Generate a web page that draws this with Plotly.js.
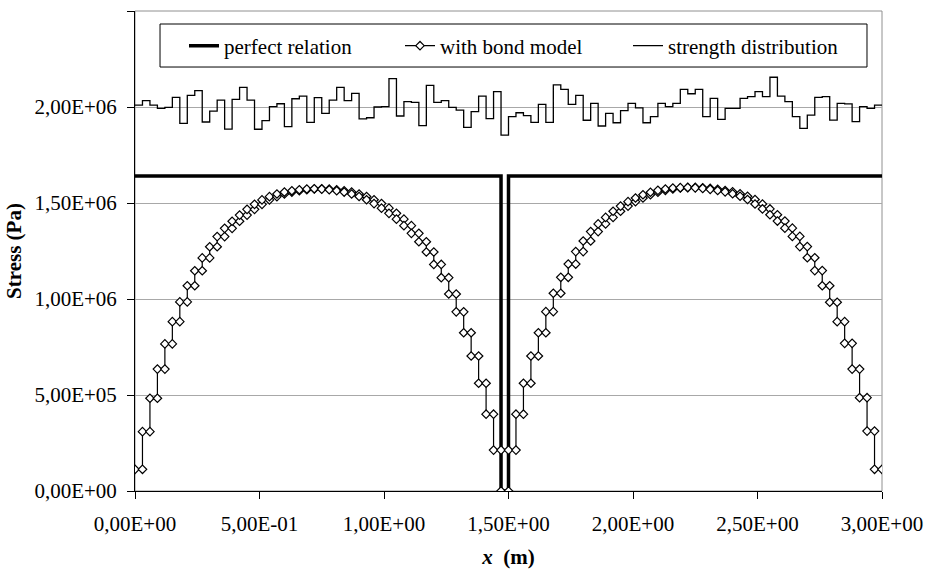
<!DOCTYPE html>
<html>
<head>
<meta charset="utf-8">
<script src="https://cdn.plot.ly/plotly-3.0.1.min.js"></script>
<style>
  html, body { margin: 0; padding: 0; background: #ffffff; }
  #chart { width: 925px; height: 574px; }
</style>
</head>
<body>
<div id="chart"></div>
<script>
// Element node positions along the bar (m): 100 elements of 0.03 m
const xNodes = [
  0.00, 0.03, 0.06, 0.09, 0.12, 0.15, 0.18, 0.21, 0.24, 0.27,
  0.30, 0.33, 0.36, 0.39, 0.42, 0.45, 0.48, 0.51, 0.54, 0.57,
  0.60, 0.63, 0.66, 0.69, 0.72, 0.75, 0.78, 0.81, 0.84, 0.87,
  0.90, 0.93, 0.96, 0.99, 1.02, 1.05, 1.08, 1.11, 1.14, 1.17,
  1.20, 1.23, 1.26, 1.29, 1.32, 1.35, 1.38, 1.41, 1.44, 1.47,
  1.50, 1.53, 1.56, 1.59, 1.62, 1.65, 1.68, 1.71, 1.74, 1.77,
  1.80, 1.83, 1.86, 1.89, 1.92, 1.95, 1.98, 2.01, 2.04, 2.07,
  2.10, 2.13, 2.16, 2.19, 2.22, 2.25, 2.28, 2.31, 2.34, 2.37,
  2.40, 2.43, 2.46, 2.49, 2.52, 2.55, 2.58, 2.61, 2.64, 2.67,
  2.70, 2.73, 2.76, 2.79, 2.82, 2.85, 2.88, 2.91, 2.94, 2.97,
  3.00
];

// Stress per element (Pa)
const perfectRelation = [
  1640000, 1640000, 1640000, 1640000, 1640000, 1640000, 1640000, 1640000, 1640000, 1640000,
  1640000, 1640000, 1640000, 1640000, 1640000, 1640000, 1640000, 1640000, 1640000, 1640000,
  1640000, 1640000, 1640000, 1640000, 1640000, 1640000, 1640000, 1640000, 1640000, 1640000,
  1640000, 1640000, 1640000, 1640000, 1640000, 1640000, 1640000, 1640000, 1640000, 1640000,
  1640000, 1640000, 1640000, 1640000, 1640000, 1640000, 1640000, 1640000, 1640000, 0,
  1640000, 1640000, 1640000, 1640000, 1640000, 1640000, 1640000, 1640000, 1640000, 1640000,
  1640000, 1640000, 1640000, 1640000, 1640000, 1640000, 1640000, 1640000, 1640000, 1640000,
  1640000, 1640000, 1640000, 1640000, 1640000, 1640000, 1640000, 1640000, 1640000, 1640000,
  1640000, 1640000, 1640000, 1640000, 1640000, 1640000, 1640000, 1640000, 1640000, 1640000,
  1640000, 1640000, 1640000, 1640000, 1640000, 1640000, 1640000, 1640000, 1640000, 1640000
];

const bondModel = [
  113000, 309000, 483000, 635000, 766000, 882000, 985000, 1069000, 1147000, 1214000,
  1272000, 1325000, 1368000, 1405000, 1437000, 1467000, 1493000, 1516000, 1533000, 1547000,
  1557000, 1564000, 1569000, 1573000, 1574000, 1572000, 1569000, 1564000, 1557000, 1547000,
  1534000, 1517000, 1497000, 1473000, 1446000, 1416000, 1382000, 1342000, 1298000, 1245000,
  1180000, 1111000, 1026000, 933000, 824000, 703000, 561000, 400000, 213000, 0,
  213000, 400000, 561000, 703000, 824000, 934000, 1030000, 1113000, 1182000, 1247000,
  1302000, 1351000, 1391000, 1425000, 1457000, 1484000, 1507000, 1526000, 1543000, 1556000,
  1566000, 1573000, 1578000, 1580000, 1581000, 1579000, 1576000, 1571000, 1565000, 1558000,
  1548000, 1535000, 1518000, 1495000, 1469000, 1439000, 1406000, 1369000, 1326000, 1273000,
  1215000, 1148000, 1069000, 983000, 882000, 769000, 635000, 486000, 312000, 113000
];

const strengthDistribution = [
  2010000, 2033000, 2010000, 1993000, 1998000, 2050000, 1915000, 2061000, 2085000, 1922000,
  1979000, 2036000, 1885000, 2040000, 2102000, 2036000, 1884000, 1929000, 2002000, 2017000,
  1898000, 2043000, 2057000, 1920000, 2049000, 1967000, 2036000, 2102000, 2033000, 2071000,
  1938000, 1944000, 2000000, 2002000, 2148000, 1953000, 2028000, 2024000, 1903000, 2113000,
  2024000, 2033000, 1998000, 1984000, 1894000, 1976000, 2057000, 1939000, 2080000, 1854000,
  1950000, 1970000, 1955000, 1920000, 2014000, 1920000, 2115000, 2092000, 2014000, 2061000,
  1931000, 2019000, 1901000, 1967000, 1918000, 1981000, 2019000, 1995000, 1918000, 1950000,
  2019000, 2002000, 2019000, 2092000, 2069000, 2092000, 1950000, 2045000, 1936000, 1993000,
  1993000, 2045000, 2054000, 2080000, 2054000, 2155000, 2057000, 2028000, 1950000, 1889000,
  1958000, 2050000, 2054000, 1932000, 2019000, 2016000, 1924000, 2002000, 1993000, 2010000
];

const seriesNames = ['perfect relation', 'with bond model', 'strength distribution'];

const yTickVals = [0, 500000, 1000000, 1500000, 2000000, 2500000];
const yTickText = ['0,00E+00', '5,00E+05', '1,00E+06', '1,50E+06', '2,00E+06', '2,50E+06'];
const xTickVals = [0, 0.5, 1.0, 1.5, 2.0, 2.5, 3.0];
const xTickText = ['0,00E+00', '5,00E-01', '1,00E+00', '1,50E+00', '2,00E+00', '2,50E+00', '3,00E+00'];

// ---- build step coordinates from element values ----
function stepHV(vals) {
  const xs = [], ys = [];
  for (let i = 0; i < vals.length; i++) { xs.push(xNodes[i]); ys.push(vals[i]); }
  xs.push(xNodes[vals.length]); ys.push(vals[vals.length - 1]);
  return {x: xs, y: ys};
}
function elementEnds(vals) {
  const xs = [], ys = [];
  for (let i = 0; i < vals.length; i++) {
    xs.push(xNodes[i]); ys.push(vals[i]);
    xs.push(xNodes[i + 1]); ys.push(vals[i]);
  }
  return {x: xs, y: ys};
}

const FONT = 'Liberation Serif';
const pr = stepHV(perfectRelation);
const bm = elementEnds(bondModel);
const sd = stepHV(strengthDistribution);

const traces = [
  {
    x: pr.x, y: pr.y, name: seriesNames[0], type: 'scatter', mode: 'lines',
    line: {color: '#000000', width: 3.5, shape: 'hv'},
    legendwidth: 171, hoverinfo: 'skip'
  },
  {
    x: bm.x, y: bm.y, name: seriesNames[1], type: 'scatter', mode: 'lines+markers',
    line: {color: '#000000', width: 1.2},
    marker: {symbol: 'diamond', size: 6.5, color: '#ffffff', line: {color: '#000000', width: 1.2}},
    legendwidth: 183, hoverinfo: 'skip'
  },
  {
    x: sd.x, y: sd.y, name: seriesNames[2], type: 'scatter', mode: 'lines',
    line: {color: '#000000', width: 1.3, shape: 'hv'},
    legendwidth: 180, hoverinfo: 'skip'
  }
];

const layout = {
  width: 925, height: 574,
  margin: {l: 135, r: 43, t: 11, b: 83, pad: 0},
  paper_bgcolor: '#ffffff', plot_bgcolor: '#ffffff',
  font: {family: FONT, size: 21, color: '#000000'},
  showlegend: true,
  legend: {
    orientation: 'h', x: 0.0656, xanchor: 'left', y: 0.927, yanchor: 'middle',
    bgcolor: 'rgba(0,0,0,0)', borderwidth: 0,
    font: {family: FONT, size: 21, color: '#000000'},
    traceorder: 'normal'
  },
  xaxis: {
    range: [0, 3], tickvals: xTickVals, ticktext: xTickText,
    showgrid: false, zeroline: false, showline: true, linecolor: '#000000', linewidth: 1,
    ticks: 'outside', ticklen: 7, tickcolor: '#000000', tickwidth: 1,
    tickfont: {family: FONT, size: 21, color: '#000000'},
    ticklabelstandoff: 7,
    title: {text: '<b><i>x</i>\u00a0\u00a0(m)</b>', font: {family: FONT, size: 21, color: '#000000'}, standoff: 14},
    fixedrange: true
  },
  yaxis: {
    range: [0, 2500000], tickvals: yTickVals, ticktext: yTickText,
    showgrid: true, gridcolor: '#a8a8a8', gridwidth: 1,
    zeroline: false, showline: true, linecolor: '#000000', linewidth: 1,
    ticks: 'outside', ticklen: 7, tickcolor: '#000000', tickwidth: 1,
    tickfont: {family: FONT, size: 21, color: '#000000'},
    ticklabelstandoff: 6,
    title: {text: '<b>Stress (Pa)</b>', font: {family: FONT, size: 21, color: '#000000'}, standoff: 7},
    fixedrange: true
  },
  shapes: [
    {type: 'rect', xref: 'paper', yref: 'paper', x0: 0, x1: 1, y0: 0, y1: 1,
     line: {color: '#909090', width: 1}, fillcolor: 'rgba(0,0,0,0)', layer: 'below'},
    {type: 'rect', xref: 'paper', yref: 'paper', x0: 0.0335, x1: 0.9799, y0: 0.8833, y1: 0.9729,
     line: {color: '#000000', width: 1}, fillcolor: '#ffffff', layer: 'below'}
  ]
};

Plotly.newPlot('chart', traces, layout, {displayModeBar: false, staticPlot: true});
</script>
</body>
</html>
